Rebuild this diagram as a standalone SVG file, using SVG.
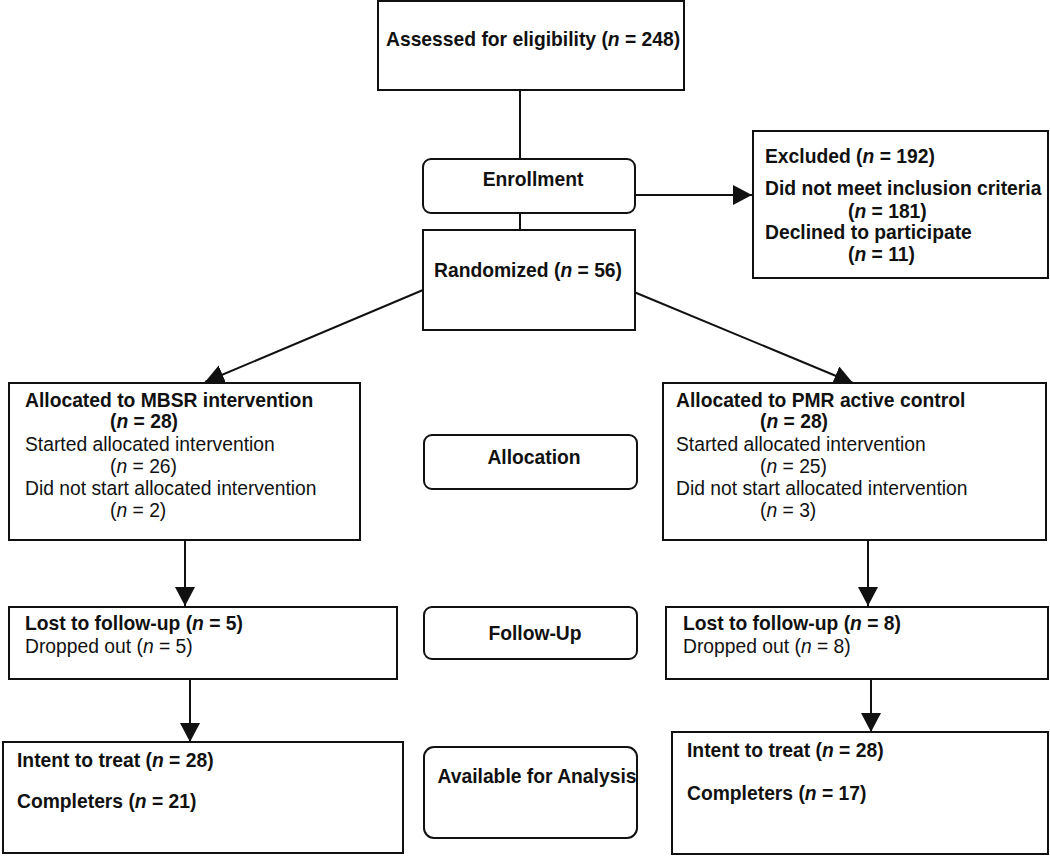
<svg xmlns="http://www.w3.org/2000/svg" width="1050" height="856" viewBox="0 0 1050 856">
<style>
.box{fill:#fff;stroke:#111;stroke-width:2}
.t{font-family:"Liberation Sans",Arial,sans-serif;font-size:19.3px;fill:#111}
.b{font-weight:bold}
.c{text-anchor:middle}
.ln{stroke:#111;stroke-width:2;fill:none}
</style>
<defs>
<marker id="ah" markerUnits="userSpaceOnUse" markerWidth="20" markerHeight="22" refX="19" refY="10" orient="auto">
<path d="M0,0 L19,10 L0,20 z" fill="#111"/>
</marker>
</defs>
<rect width="1050" height="856" fill="#fff"/>
<g id="connectors">
<line class="ln" x1="520" y1="90" x2="520" y2="159"/>
<line class="ln" x1="520" y1="213" x2="520" y2="230"/>
<line class="ln" x1="635" y1="195" x2="752" y2="195" marker-end="url(#ah)"/>
<line class="ln" x1="423" y1="290" x2="205" y2="382" marker-end="url(#ah)"/>
<line class="ln" x1="634" y1="292" x2="853" y2="383" marker-end="url(#ah)"/>
<line class="ln" x1="185" y1="541" x2="185" y2="606" marker-end="url(#ah)"/>
<line class="ln" x1="190" y1="679" x2="190" y2="742" marker-end="url(#ah)"/>
<line class="ln" x1="868" y1="541" x2="868" y2="606" marker-end="url(#ah)"/>
<line class="ln" x1="871" y1="679" x2="871" y2="732" marker-end="url(#ah)"/>
</g>
<g id="assessed">
<rect class="box" x="378" y="1" width="306" height="89"/>
<text class="t b" x="386" y="46">Assessed for eligibility (<tspan font-style="italic">n</tspan> = 248)</text>
</g>
<g id="enrollment">
<rect class="box" x="423" y="159" width="212" height="54" rx="8"/>
<text class="t b c" x="533" y="186">Enrollment</text>
</g>
<g id="randomized">
<rect class="box" x="423" y="230" width="212" height="100"/>
<text class="t b c" x="528" y="277">Randomized (<tspan font-style="italic">n</tspan> = 56)</text>
</g>
<g id="excluded">
<rect class="box" x="753" y="131" width="295" height="147"/>
<text class="t b" x="765" y="163">Excluded (<tspan font-style="italic">n</tspan> = 192)</text>
<text class="t b" x="765" y="195">Did not meet inclusion criteria</text>
<text class="t b" x="848" y="218">(<tspan font-style="italic">n</tspan> = 181)</text>
<text class="t b" x="765" y="239">Declined to participate</text>
<text class="t b" x="848" y="261">(<tspan font-style="italic">n</tspan> = 11)</text>
</g>
<g id="alloc-mbsr">
<rect class="box" x="9" y="383" width="351" height="157"/>
<text class="t b" x="25" y="407">Allocated to MBSR intervention</text>
<text class="t b" x="110" y="428">(<tspan font-style="italic">n</tspan> = 28)</text>
<text class="t" x="25" y="451">Started allocated intervention</text>
<text class="t" x="110" y="473">(<tspan font-style="italic">n</tspan> = 26)</text>
<text class="t" x="25" y="495">Did not start allocated intervention</text>
<text class="t" x="110" y="517">(<tspan font-style="italic">n</tspan> = 2)</text>
</g>
<g id="alloc-pmr">
<rect class="box" x="663" y="383" width="383" height="157"/>
<text class="t b" x="676" y="407">Allocated to PMR active control</text>
<text class="t b" x="760" y="428">(<tspan font-style="italic">n</tspan> = 28)</text>
<text class="t" x="676" y="451">Started allocated intervention</text>
<text class="t" x="760" y="473">(<tspan font-style="italic">n</tspan> = 25)</text>
<text class="t" x="676" y="495">Did not start allocated intervention</text>
<text class="t" x="760" y="517">(<tspan font-style="italic">n</tspan> = 3)</text>
</g>
<g id="allocation">
<rect class="box" x="424" y="435" width="213" height="54" rx="8"/>
<text class="t b c" x="534" y="464">Allocation</text>
</g>
<g id="lost-mbsr">
<rect class="box" x="9" y="607" width="388" height="72"/>
<text class="t b" x="25" y="630">Lost to follow-up (<tspan font-style="italic">n</tspan> = 5)</text>
<text class="t" x="25" y="653">Dropped out (<tspan font-style="italic">n</tspan> = 5)</text>
</g>
<g id="followup">
<rect class="box" x="424" y="607" width="213" height="52" rx="8"/>
<text class="t b c" x="535" y="640">Follow-Up</text>
</g>
<g id="lost-pmr">
<rect class="box" x="666" y="607" width="382" height="72"/>
<text class="t b" x="683" y="630">Lost to follow-up (<tspan font-style="italic">n</tspan> = 8)</text>
<text class="t" x="683" y="653">Dropped out (<tspan font-style="italic">n</tspan> = 8)</text>
</g>
<g id="itt-mbsr">
<rect class="box" x="3" y="742" width="400" height="111"/>
<text class="t b" x="17" y="767">Intent to treat (<tspan font-style="italic">n</tspan> = 28)</text>
<text class="t b" x="17" y="808">Completers (<tspan font-style="italic">n</tspan> = 21)</text>
</g>
<g id="analysis">
<rect class="box" x="424" y="747" width="213" height="91" rx="10"/>
<text class="t b c" x="537" y="783">Available for Analysis</text>
</g>
<g id="itt-pmr">
<rect class="box" x="672" y="732" width="376" height="122"/>
<text class="t b" x="687" y="757">Intent to treat (<tspan font-style="italic">n</tspan> = 28)</text>
<text class="t b" x="687" y="800">Completers (<tspan font-style="italic">n</tspan> = 17)</text>
</g>
</svg>
